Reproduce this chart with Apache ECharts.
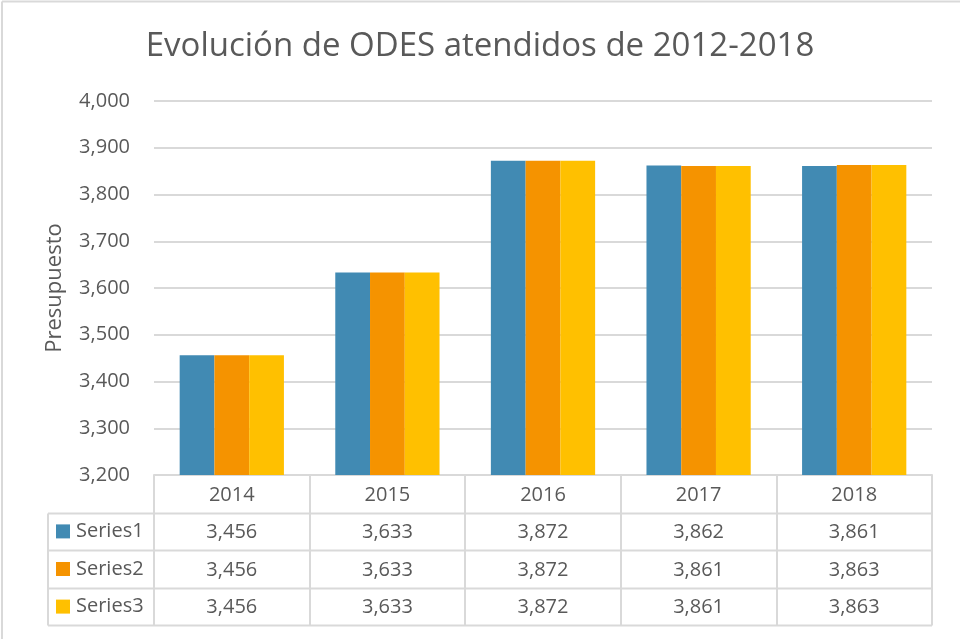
<!DOCTYPE html>
<html>
<head>
<meta charset="utf-8">
<script src="https://cdn.jsdelivr.net/npm/echarts@6/dist/echarts.min.js"></script>
<style>html,body{margin:0;padding:0;background:#fff}#c{width:960px;height:639px}</style>
</head>
<body>
<div id="c"></div>
<script>
var categories = ['2014', '2015', '2016', '2017', '2018'];
var seriesNames = ['Series1', 'Series2', 'Series3'];
var series1 = [3456, 3633, 3872, 3862, 3861];
var series2 = [3456, 3633, 3872, 3861, 3863];
var series3 = [3456, 3633, 3872, 3861, 3863];
var yTicks = [3200, 3300, 3400, 3500, 3600, 3700, 3800, 3900, 4000];

var allSeries = [series1, series2, series3];
var colors = ['#418AB3', '#F59300', '#FFC000'];
var FONT = 'Open Sans';
var TXT = '#595959';
var LINE = '#d9d9d9';
var gridL = 154, gridR = 28, gridT = 101, gridB = 164;
var axisY = 639 - gridB;
var rowH = 37.6;
var tableLeft = 48;
var tableRight = 960 - gridR;

function fmt(v) { return Number(v).toLocaleString('en-US'); }

var chart = echarts.init(document.getElementById('c'), null, { renderer: 'canvas' });

var graphics = [
  { type: 'line', shape: { x1: 2, y1: 1.5, x2: 960, y2: 1.5 }, style: { stroke: LINE, lineWidth: 2 } },
  { type: 'line', shape: { x1: 2, y1: 1.5, x2: 2, y2: 639 }, style: { stroke: LINE, lineWidth: 2 } }
];
for (var i = 1; i <= 4; i++) {
  var y = Math.round(axisY + rowH * i) + 0.5;
  graphics.push({ type: 'line', shape: { x1: tableLeft, y1: y, x2: tableRight, y2: y }, style: { stroke: LINE, lineWidth: 2 } });
}
graphics.push({ type: 'line', shape: { x1: tableLeft, y1: Math.round(axisY + rowH) + 0.5, x2: tableLeft, y2: Math.round(axisY + rowH * 4) + 0.5 }, style: { stroke: LINE, lineWidth: 2 } });
seriesNames.forEach(function (name, k) {
  var cy = axisY + rowH * (k + 1.5);
  graphics.push({ type: 'rect', shape: { x: 56, y: cy - 7, width: 14, height: 14 }, style: { fill: colors[k] } });
  graphics.push({ type: 'text', x: 76, y: cy, style: { text: name, fill: TXT, font: '20px "' + FONT + '"', textVerticalAlign: 'middle', textAlign: 'left' } });
});

var option = {
  animation: false,
  textStyle: { fontFamily: FONT },
  title: {
    text: 'Evolución de ODES atendidos de 2012-2018',
    left: 'center',
    top: 25,
    textStyle: { fontFamily: FONT, fontSize: 33, fontWeight: 'normal', color: TXT }
  },
  grid: { left: gridL, right: gridR, top: gridT, bottom: gridB, containLabel: false },
  xAxis: {
    type: 'category',
    data: categories,
    axisLine: { show: true, lineStyle: { color: LINE, width: 2 } },
    axisTick: { show: true, length: rowH * 4, lineStyle: { color: LINE, width: 2 } },
    axisLabel: {
      margin: 1,
      interval: 0,
      color: TXT,
      fontSize: 20,
      fontFamily: FONT,
      lineHeight: rowH,
      formatter: function (val, idx) {
        return [val].concat(allSeries.map(function (s) { return fmt(s[idx]); })).join('\n');
      }
    }
  },
  yAxis: {
    type: 'value',
    min: yTicks[0],
    max: yTicks[yTicks.length - 1],
    interval: yTicks[1] - yTicks[0],
    name: 'Presupuesto',
    nameLocation: 'middle',
    nameGap: 88,
    nameTextStyle: { color: TXT, fontSize: 22, fontFamily: FONT },
    axisLine: { show: false },
    axisTick: { show: false },
    axisLabel: { color: TXT, fontSize: 20, fontFamily: FONT, margin: 24, formatter: function (v) { return fmt(v); } },
    splitLine: { lineStyle: { color: LINE, width: 2 } }
  },
  series: allSeries.map(function (s, k) {
    return {
      type: 'bar',
      name: seriesNames[k],
      data: s,
      barGap: '0%',
      barCategoryGap: '33%',
      itemStyle: { color: colors[k] }
    };
  }),
  graphic: graphics
};
chart.setOption(option);
</script>
</body>
</html>
